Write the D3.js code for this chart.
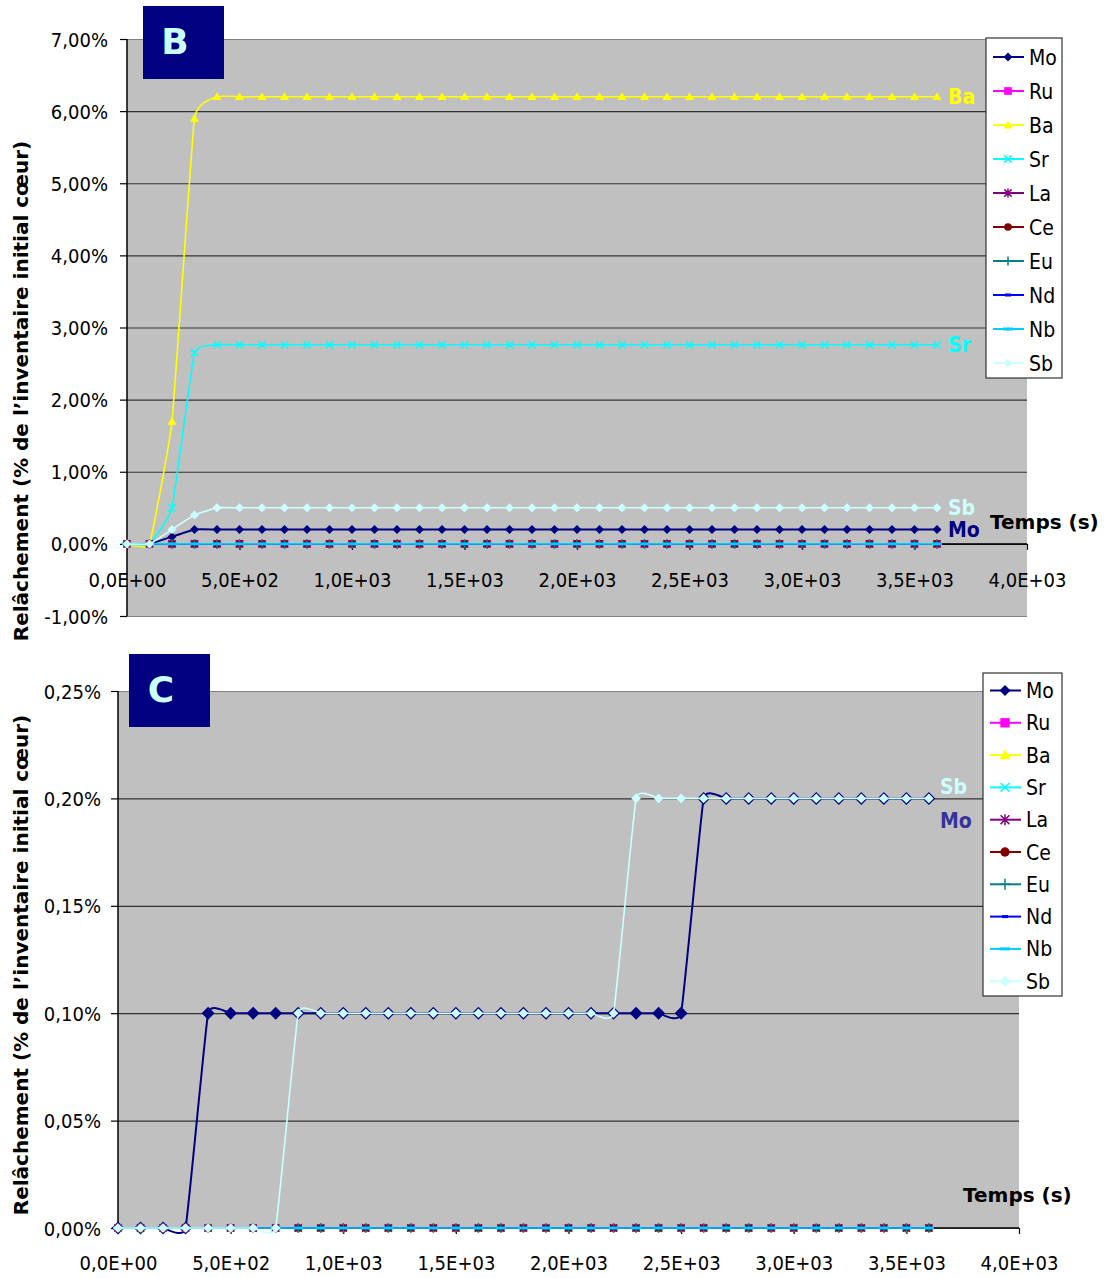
<!DOCTYPE html>
<html><head><meta charset="utf-8">
<script src="https://cdn.jsdelivr.net/npm/d3@7"></script>
<style>
body{margin:0;background:#fff;}
svg text{font-family:"DejaVu Sans Condensed","DejaVu Sans",sans-serif;font-stretch:condensed;}
svg text.wide{font-family:"DejaVu Sans",sans-serif;font-stretch:normal;}
</style></head><body>
<svg id="chart" width="1106" height="1278"></svg>
<script>
// ---------------- DATA ----------------
const seriesNames = ["Mo","Ru","Ba","Sr","La","Ce","Eu","Nd","Nb","Sb"];
const times = [0,100,200,300,400,500,600,700,800,900,
  1000,1100,1200,1300,1400,1500,1600,1700,1800,1900,
  2000,2100,2200,2300,2400,2500,2600,2700,2800,2900,
  3000,3100,3200,3300,3400,3500,3600];
const xTickValues = [0,500,1000,1500,2000,2500,3000,3500,4000];
const xTickLabels = ["0,0E+00","5,0E+02","1,0E+03","1,5E+03","2,0E+03","2,5E+03","3,0E+03","3,5E+03","4,0E+03"];
const yTicksB = [-1,0,1,2,3,4,5,6,7];
const yTickLabelsB = ["-1,00%","0,00%","1,00%","2,00%","3,00%","4,00%","5,00%","6,00%","7,00%"];
const yTicksC = [0,0.05,0.1,0.15,0.2,0.25];
const yTickLabelsC = ["0,00%","0,05%","0,10%","0,15%","0,20%","0,25%"];
const yAxisTitle = "Relâchement (% de l’inventaire initial cœur)";
const xAxisTitle = "Temps (s)";

// Panel B values (% of initial core inventory)
const moB = [0,0,0.1,0.2,0.2,0.2,0.2,0.2,0.2,0.2,
  0.2,0.2,0.2,0.2,0.2,0.2,0.2,0.2,0.2,0.2,
  0.2,0.2,0.2,0.2,0.2,0.2,0.2,0.2,0.2,0.2,
  0.2,0.2,0.2,0.2,0.2,0.2,0.2];
const baB = [0,0,1.7,5.9,6.2,6.2,6.2,6.2,6.2,6.2,
  6.2,6.2,6.2,6.2,6.2,6.2,6.2,6.2,6.2,6.2,
  6.2,6.2,6.2,6.2,6.2,6.2,6.2,6.2,6.2,6.2,
  6.2,6.2,6.2,6.2,6.2,6.2,6.2];
const srB = [0,0,0.5,2.65,2.76,2.76,2.76,2.76,2.76,2.76,
  2.76,2.76,2.76,2.76,2.76,2.76,2.76,2.76,2.76,2.76,
  2.76,2.76,2.76,2.76,2.76,2.76,2.76,2.76,2.76,2.76,
  2.76,2.76,2.76,2.76,2.76,2.76,2.76];
const sbB = [0,0,0.2,0.4,0.5,0.5,0.5,0.5,0.5,0.5,
  0.5,0.5,0.5,0.5,0.5,0.5,0.5,0.5,0.5,0.5,
  0.5,0.5,0.5,0.5,0.5,0.5,0.5,0.5,0.5,0.5,
  0.5,0.5,0.5,0.5,0.5,0.5,0.5];
const zeroB = [0,0,0,0,0,0,0,0,0,0,
  0,0,0,0,0,0,0,0,0,0,
  0,0,0,0,0,0,0,0,0,0,
  0,0,0,0,0,0,0];

// Panel C values
const moC = [0,0,0,0,0.1,0.1,0.1,0.1,0.1,0.1,
  0.1,0.1,0.1,0.1,0.1,0.1,0.1,0.1,0.1,0.1,
  0.1,0.1,0.1,0.1,0.1,0.1,0.2,0.2,0.2,0.2,
  0.2,0.2,0.2,0.2,0.2,0.2,0.2];
const sbC = [0,0,0,0,0,0,0,0,0.1,0.1,
  0.1,0.1,0.1,0.1,0.1,0.1,0.1,0.1,0.1,0.1,
  0.1,0.1,0.1,0.2,0.2,0.2,0.2,0.2,0.2,0.2,
  0.2,0.2,0.2,0.2,0.2,0.2,0.2];
const zeroC = [0,0,0,0,0,0,0,0,0,0,
  0,0,0,0,0,0,0,0,0,0,
  0,0,0,0,0,0,0,0,0,0,
  0,0,0,0,0,0,0];

const valuesB = {Mo:moB, Ru:zeroB, Ba:baB, Sr:srB, La:zeroB, Ce:zeroB, Eu:zeroB, Nd:zeroB, Nb:zeroB, Sb:sbB};
const valuesC = {Mo:moC, Ru:zeroC, Ba:zeroC, Sr:zeroC, La:zeroC, Ce:zeroC, Eu:zeroC, Nd:zeroC, Nb:zeroC, Sb:sbC};

// ---------------- STYLE ----------------
const colors = {Mo:"#000080", Ru:"#FF00FF", Ba:"#FFFF00", Sr:"#00FFFF", La:"#800080",
  Ce:"#800000", Eu:"#008080", Nd:"#0000FF", Nb:"#00CCFF", Sb:"#CCFFFF"};
const markers = {Mo:"diamond", Ru:"square", Ba:"triangle", Sr:"x", La:"asterisk",
  Ce:"circle", Eu:"plus", Nd:"dashS", Nb:"dashL", Sb:"diamond"};

const svg = d3.select("#chart");

function drawMarker(g, type, s, color){
  switch(type){
    case "diamond": g.append("path").attr("d",`M0,${-s}L${s},0L0,${s}L${-s},0Z`).attr("fill",color); break;
    case "square": g.append("rect").attr("x",-s*0.85).attr("y",-s*0.85).attr("width",s*1.7).attr("height",s*1.7).attr("fill",color); break;
    case "triangle": g.append("path").attr("d",`M0,${-s}L${s},${s*0.75}L${-s},${s*0.75}Z`).attr("fill",color); break;
    case "x": g.append("path").attr("d",`M${-s*0.8},${-s*0.8}L${s*0.8},${s*0.8}M${-s*0.8},${s*0.8}L${s*0.8},${-s*0.8}`).attr("stroke",color).attr("stroke-width",1.5).attr("fill","none"); break;
    case "asterisk": g.append("path").attr("d",`M${-s*0.8},${-s*0.8}L${s*0.8},${s*0.8}M${-s*0.8},${s*0.8}L${s*0.8},${-s*0.8}M0,${-s}L0,${s}`).attr("stroke",color).attr("stroke-width",1.5).attr("fill","none"); break;
    case "circle": g.append("circle").attr("r",s*0.85).attr("fill",color); break;
    case "plus": g.append("path").attr("d",`M${-s},0L${s},0M0,${-s}L0,${s}`).attr("stroke",color).attr("stroke-width",1.5).attr("fill","none"); break;
    case "dashS": g.append("rect").attr("x",-3).attr("y",-1.5).attr("width",6).attr("height",3).attr("fill",color); break;
    case "dashL": g.append("rect").attr("x",-5).attr("y",-1.5).attr("width",10).attr("height",3).attr("fill",color); break;
  }
}

function drawPanel(cfg){
  const x = d3.scaleLinear().domain([0,4000]).range([cfg.left, cfg.right]);
  const y = d3.scaleLinear().domain(cfg.yDomain).range([cfg.bottom, cfg.top]);
  const g = svg.append("g");

  // plot background
  g.append("rect").attr("x",cfg.left).attr("y",cfg.top).attr("width",cfg.right-cfg.left)
    .attr("height",cfg.bottom-cfg.top).attr("fill","#C0C0C0");
  // gridlines
  const grid = g.append("g").attr("transform",`translate(${cfg.left},0)`)
    .call(d3.axisLeft(y).tickValues(cfg.yTicks).tickSize(-(cfg.right-cfg.left)).tickFormat(""));
  grid.select(".domain").remove();
  grid.selectAll(".tick line").attr("stroke","#333").attr("stroke-width",1.2);
  grid.selectAll(".tick").filter(d=>d===cfg.yDomain[1]||d===cfg.yDomain[0]).select("line").attr("stroke","#808080");

  // y axis
  const ya = g.append("g").attr("transform",`translate(${cfg.left},0)`)
    .call(d3.axisLeft(y).tickValues(cfg.yTicks).tickSize(7).tickFormat((d,i)=>cfg.yLabels[i]));
  ya.select(".domain").attr("stroke","#000").attr("stroke-width",1.5).attr("d",`M0,${cfg.top}V${cfg.bottom}`);
  ya.selectAll(".tick line").attr("stroke","#000").attr("stroke-width",1.2);
  ya.selectAll(".tick text").attr("x",-cfg.yLabelPad).attr("dy","0.35em")
    .attr("font-size",20).attr("fill","#000");

  // x axis
  const xa = g.append("g").attr("transform",`translate(0,${y(0)})`)
    .call(d3.axisBottom(x).tickValues(xTickValues).tickSize(6).tickFormat((d,i)=>xTickLabels[i]));
  xa.select(".domain").attr("stroke","#000").attr("stroke-width",1.5).attr("d",`M${cfg.left},0H${cfg.right}`);
  xa.selectAll(".tick line").attr("stroke","#000").attr("stroke-width",1.2);
  xa.selectAll(".tick text").attr("y",cfg.xLabelOffset).attr("dy","0.35em")
    .attr("font-size",20).attr("fill","#000");

  // series
  const line = d3.line().x((d,i)=>x(times[i])).y(d=>y(d)).curve(d3.curveCardinal.tension(0.68));
  seriesNames.forEach(name=>{
    const vals = cfg.values[name];
    const sg = g.append("g");
    sg.append("path").attr("d",line(vals)).attr("fill","none").attr("stroke",colors[name])
      .attr("stroke-width", name==="Mo"?2:1.6);
    vals.forEach((v,i)=>{
      const mg = sg.append("g").attr("transform",`translate(${x(times[i])},${y(v)})`);
      drawMarker(mg, markers[name], (cfg.markerSize[name]||4.5), colors[name]);
    });
  });

  // end labels
  cfg.endLabels.forEach(l=>{
    const vals = cfg.values[l.name];
    g.append("text").attr("x",x(times[times.length-1])+11).attr("y",y(vals[vals.length-1])+l.dy)
      .attr("dy","0.35em").attr("font-size",21).attr("font-weight","bold").attr("fill",l.color).text(l.name);
  });

  // axis titles
  g.append("text").attr("class","wide").attr("transform",`translate(${cfg.yTitleX},${cfg.yTitleY}) rotate(-90)`)
    .attr("text-anchor","middle").attr("dy","0.35em").attr("font-size",20).attr("font-weight","bold").text(yAxisTitle);
  g.append("text").attr("class","wide").attr("x",cfg.xTitleX).attr("y",cfg.xTitleY).attr("dy","0.35em")
    .attr("font-size",20).attr("font-weight","bold").text(xAxisTitle);

  // panel letter
  g.append("rect").attr("x",cfg.letterX).attr("y",cfg.letterY).attr("width",81).attr("height",73).attr("fill","#000080");
  g.append("text").attr("class","wide").attr("x",cfg.letterX+32).attr("y",cfg.letterY+35).attr("dy","0.36em").attr("text-anchor","middle")
    .attr("font-size",36).attr("font-weight","bold").attr("fill","#CCFFFF").text(cfg.letter);

  // legend
  const lg = g.append("g");
  lg.append("rect").attr("x",cfg.legX).attr("y",cfg.legY).attr("width",cfg.legW).attr("height",cfg.legH)
    .attr("fill","#fff").attr("stroke","#333").attr("stroke-width",1.2);
  seriesNames.forEach((name,i)=>{
    const cy = cfg.legFirst + i*cfg.legStep;
    lg.append("line").attr("x1",cfg.legX+7).attr("x2",cfg.legX+38).attr("y1",cy).attr("y2",cy)
      .attr("stroke",colors[name]).attr("stroke-width",2);
    const mg = lg.append("g").attr("transform",`translate(${cfg.legX+22},${cy})`);
    drawMarker(mg, markers[name], cfg.legMarker, colors[name]);
    lg.append("text").attr("x",cfg.legX+43).attr("y",cy).attr("dy","0.36em").attr("font-size",21)
      .attr("fill","#000").text(name);
  });
}

drawPanel({
  left:127, right:1027, top:39, bottom:616, yDomain:[-1,7], yTicks:yTicksB, yLabels:yTickLabelsB,
  yLabelPad:19, xLabelOffset:36, values:valuesB, markerSize:{Mo:4.5, Sb:4.5},
  endLabels:[{name:"Ba",color:"#FFFF00",dy:0},{name:"Sr",color:"#00FFFF",dy:0},
             {name:"Sb",color:"#CCFFFF",dy:0},{name:"Mo",color:"#000080",dy:0}],
  yTitleX:21, yTitleY:391, xTitleX:990, xTitleY:522,
  letter:"B", letterX:143, letterY:6,
  legX:986, legY:38, legW:76, legH:340, legFirst:57, legStep:34, legMarker:4.5
});
drawPanel({
  left:118, right:1019, top:691, bottom:1228, yDomain:[0,0.25], yTicks:yTicksC, yLabels:yTickLabelsC,
  yLabelPad:17, xLabelOffset:35, values:valuesC, markerSize:{Mo:6.5, Sb:4.8},
  endLabels:[{name:"Sb",color:"#CCFFFF",dy:-12},{name:"Mo",color:"#333399",dy:22}],
  yTitleX:21, yTitleY:965, xTitleX:963, xTitleY:1195,
  letter:"C", letterX:129, letterY:654,
  legX:983, legY:673, legW:79, legH:323, legFirst:690.5, legStep:32.3, legMarker:5.5
});
</script>
</body></html>
